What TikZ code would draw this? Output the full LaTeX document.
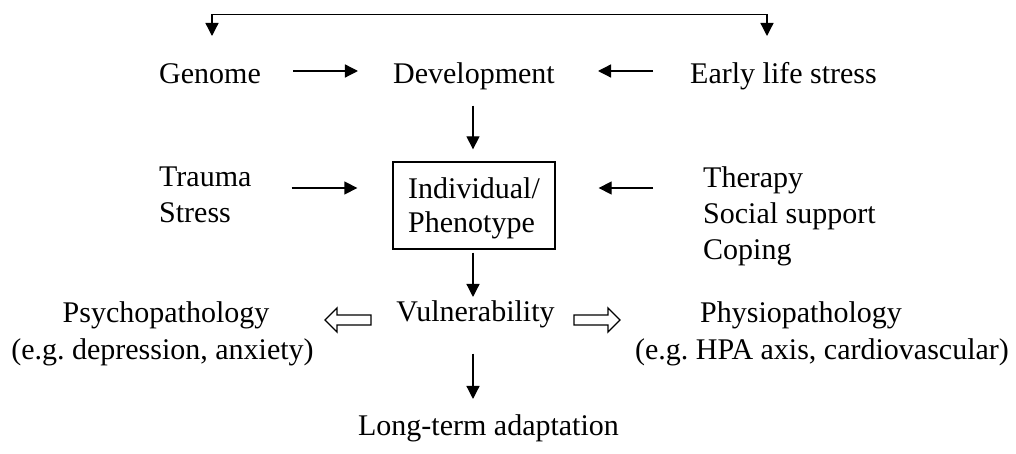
\documentclass[tikz,border=0pt]{standalone}
\usepackage{fontspec}
\setmainfont{Liberation Serif}
\usetikzlibrary{arrows.meta,calc}
\frenchspacing
\begin{document}
\begin{tikzpicture}[x=1bp,y=-1bp,
  txt/.style={inner sep=0pt, font=\fontsize{30bp}{36bp}\selectfont},
  arr/.style={line width=1.3bp, -{Triangle[width=13bp,length=13bp]}},
  biarr/.style={line width=1.3bp, {Triangle[width=13bp,length=13bp]}-{Triangle[width=13bp,length=13bp]}},
  boxed/.style={draw, line width=1.3bp, inner sep=0pt, minimum width=162bp, minimum height=87bp},
  hollow/.style={draw, line width=1.3bp, line join=miter}]
\useasboundingbox (0,0) rectangle (1016,454);
% row 1
\node[txt,anchor=base west] (genome) at (159,84) {Genome};
\node[txt,anchor=base] (dev) at (474,84) {Development};
\node[txt,anchor=base west] (els) at (690,84) {Early life stress};
% row 2
\node[txt,anchor=base west] (trauma) at (159,187) {Trauma};
\node[txt,anchor=base west] (stress) at (159,223) {Stress};
\node[boxed] (box) at (474,205.5) {};
\node[txt,anchor=base west] (ind) at (408,199) {Individual/};
\node[txt,anchor=base west] (phen) at (408,233) {Phenotype};
\node[txt,anchor=base west] (therapy) at (703,188) {Therapy};
\node[txt,anchor=base west] (social) at (703,224) {Social support};
\node[txt,anchor=base west] (coping) at (703,260) {Coping};
% row 3
\node[txt,anchor=base] (vul) at (475.5,322) {Vulnerability};
\node[txt,anchor=base] (psycho) at (166,323) {Psychopathology};
\node[txt,anchor=base] (psychoeg) at (162.5,360) {(e.g. depression, anxiety)};
\node[txt,anchor=base] (physio) at (801,323) {Physiopathology};
\node[txt,anchor=base] (physioeg) at (822,360) {(e.g. HPA axis, cardiovascular)};
% row 4
\node[txt,anchor=base] (lta) at (488.5,435) {Long-term adaptation};
% helper rows
\coordinate (r1) at (0,71);
\coordinate (r2) at (0,188);
% hollow arrows
\coordinate (lt) at (325,320);
\coordinate (rt) at (620,320);
\draw[hollow] (lt) -- ++(12,-12) -- ++(0,7) -- ++(34,0) -- ++(0,10) -- ++(-34,0) -- ++(0,7) -- cycle;
\draw[hollow] (rt) -- ++(-12,-12) -- ++(0,7) -- ++(-34,0) -- ++(0,10) -- ++(34,0) -- ++(0,7) -- cycle;
% top bracket
\coordinate (tl) at (212,36);
\coordinate (tr) at (767,36);
\draw[biarr] (tl) |- ($(tr)+(0,-21.3)$) -- (tr);
% horizontal arrows
\draw[arr] ($(genome.east |- r1)+(32,0)$) -- ($(dev.west |- r1)+(-35,0)$);
\draw[arr] ($(els.west |- r1)+(-37,0)$) -- ($(dev.east |- r1)+(43,0)$);
\draw[arr] ($(trauma.east |- r2)+(40,0)$) -- ($(box.west |- r2)+(-35,0)$);
\draw[arr] ($(therapy.west |- r2)+(-50,0)$) -- ($(box.east |- r2)+(43,0)$);
% vertical arrows
\draw[arr] ($(box.north |- dev.south)+(-1,15)$) -- ($(box.north)+(-1,-12)$);
\draw[arr] ($(box.south)+(-1,3)$) -- ($(box.south |- vul.north)+(-1,-4)$);
\draw[arr] ($(box.south |- vul.south)+(-1,25)$) -- ($(box.south |- lta.north)+(-1,-15)$);
\end{tikzpicture}
\end{document}
